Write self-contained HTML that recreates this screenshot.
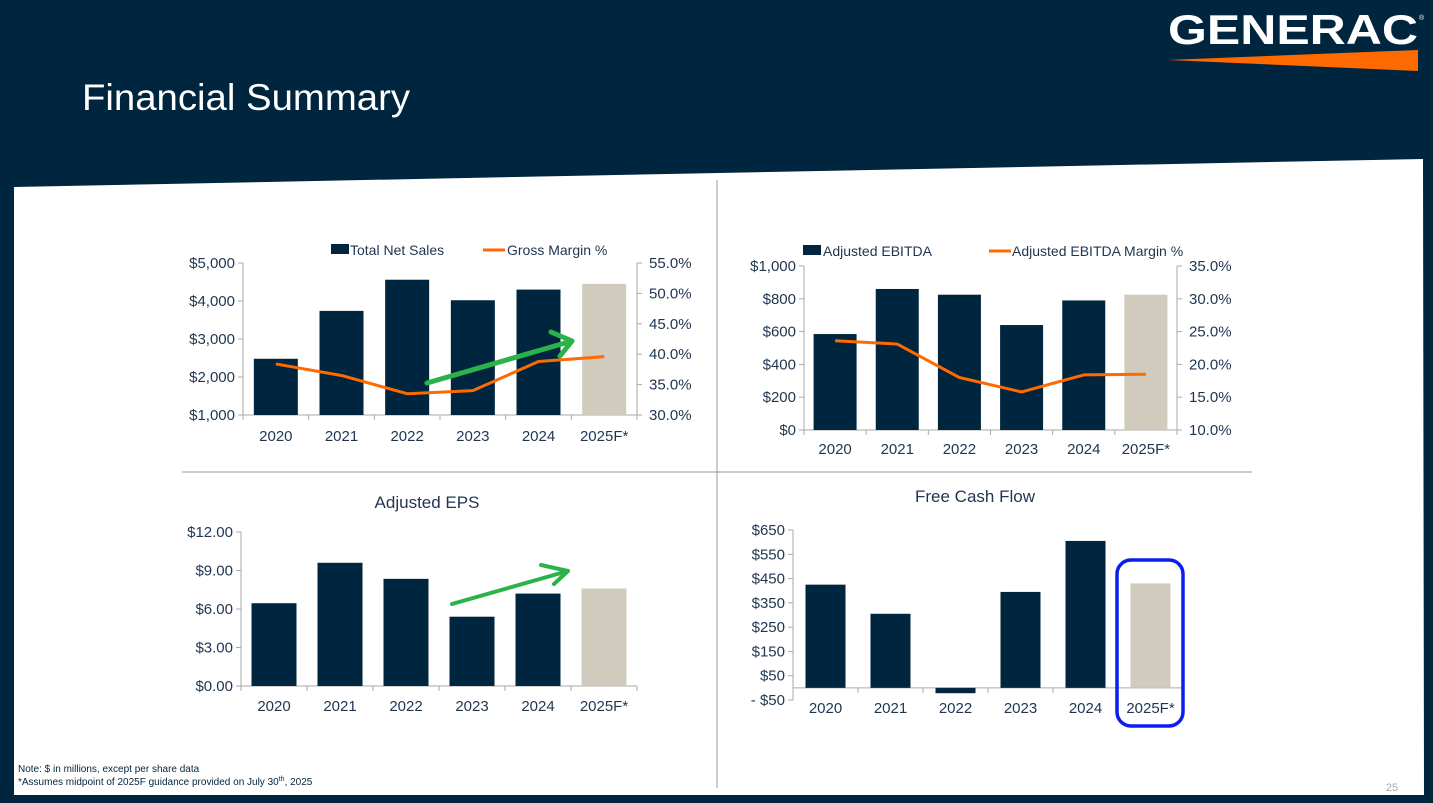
<!DOCTYPE html>
<html><head><meta charset="utf-8">
<style>
html,body{margin:0;padding:0;width:1433px;height:803px;overflow:hidden;background:#00253e;font-family:"Liberation Sans",sans-serif}
svg{position:absolute;left:0;top:0}
text{font-family:"Liberation Sans",sans-serif}
</style></head>
<body>
<svg id="s" width="1433" height="803">
<polygon points="14,187 1423,159 1424,795 14,795" fill="#ffffff"/>
<text x="82" y="110" font-size="37" fill="#ffffff" textLength="328" lengthAdjust="spacingAndGlyphs">Financial Summary</text>
<text x="1168" y="44" font-size="42" font-weight="bold" fill="#ffffff" textLength="250" lengthAdjust="spacingAndGlyphs">GENERAC</text>
<text x="1419" y="20" font-size="7" fill="#fff">®</text>
<polygon points="1168,60 1418,50 1418,71" fill="#ff6a00"/>
<line x1="717" y1="180" x2="717" y2="788" stroke="#999" stroke-width="1"/>
<line x1="182" y1="472" x2="1252" y2="472" stroke="#999" stroke-width="1"/>
<text x="18" y="772" font-size="10" fill="#00253e">Note: $ in millions, except per share data</text>
<text x="18" y="785" font-size="10" fill="#00253e">*Assumes midpoint of 2025F guidance provided on July 30<tspan font-size="7" dy="-4">th</tspan><tspan dy="4">, 2025</tspan></text>
<text x="1392" y="791" font-size="11" fill="#aaa" text-anchor="middle">25</text>
<g id="charts"></g>
</svg>
<script>
const categories = ["2020","2021","2022","2023","2024","2025F*"];
const netSales = [2480, 3740, 4560, 4020, 4300, 4450];
const grossMargin = [38.4, 36.5, 33.5, 34.0, 38.8, 39.6];
const ebitda = [585, 860, 825, 640, 790, 825];
const ebitdaMargin = [23.6, 23.1, 18.0, 15.8, 18.4, 18.5];
const eps = [6.45, 9.6, 8.35, 5.4, 7.2, 7.6];
const fcf = [425, 305, -22, 395, 605, 430];
const salesTicks = [1000,2000,3000,4000,5000];
const gmTicks = [30,35,40,45,50,55];
const ebitdaTicks = [0,200,400,600,800,1000];
const emTicks = [10,15,20,25,30,35];
const epsTicks = [0,3,6,9,12];
const fcfTicks = [-50,50,150,250,350,450,550,650];

const NS="http://www.w3.org/2000/svg";
const root=document.getElementById('charts');
const NAVY="#00253e", TAN="#d1cbbd", ORANGE="#ff6a00", TXT="#1f3550";
function mk(tag,attrs,parent){const e=document.createElementNS(NS,tag);for(const k in attrs)e.setAttribute(k,attrs[k]);(parent||root).appendChild(e);return e;}
function fmtMoney(v,dec){const s=Math.abs(v).toLocaleString('en-US',{minimumFractionDigits:dec,maximumFractionDigits:dec});return (v<0?"- $":"$")+s;}

function chart(o){
  const g=mk('g',{});
  
  
  const y=v=>o.y0+(v-o.min)/(o.max-o.min)*(o.y1-o.y0);
  const bw=(o.x1-o.x0)/categories.length;
  const cx=i=>o.x0+bw*(i+0.5);
  const zero=y(Math.max(o.min,0));
  mk('line',{x1:o.x0,y1:o.y0,x2:o.x0,y2:o.y1,stroke:"#aaa"},g);
  o.ticks.forEach(t=>{
    mk('line',{x1:o.x0-5,y1:y(t),x2:o.x0,y2:y(t),stroke:"#aaa"},g);
    const tx=mk('text',{x:o.x0-8,y:y(t)+5,'font-size':15,fill:TXT,'text-anchor':'end'},g);
    tx.textContent=fmtMoney(t,o.dec);
    
    
  });
  mk('line',{x1:o.x0,y1:zero,x2:o.x1,y2:zero,stroke:"#aaa"},g);
  for(let i=0;i<=categories.length;i++) mk('line',{x1:o.x0+bw*i,y1:zero,x2:o.x0+bw*i,y2:zero+5,stroke:"#aaa"},g);
  o.vals.forEach((v,i)=>{
    const top=Math.min(y(v),zero),h=Math.abs(y(v)-zero);
    const r=mk('rect',{x:cx(i)-o.barW/2,y:top,width:o.barW,height:h,fill:i==5?TAN:NAVY},g);
    
    
  });
  categories.forEach((c,i)=>{
    const t=mk('text',{x:cx(i),y:o.labelY,'font-size':15,fill:TXT,'text-anchor':'middle'},g);
    t.textContent=c;
    
    
  });
  if(o.line){
    const ry=v=>o.y0+(v-o.rmin)/(o.rmax-o.rmin)*(o.y1-o.y0);
    mk('line',{x1:o.x1,y1:o.y0,x2:o.x1,y2:o.y1,stroke:"#aaa"},g);
    o.rticks.forEach(t=>{
      mk('line',{x1:o.x1,y1:ry(t),x2:o.x1+5,y2:ry(t),stroke:"#aaa"},g);
      const tx=mk('text',{x:o.x1+12,y:ry(t)+5,'font-size':15,fill:TXT},g);
      tx.textContent=t.toFixed(1)+"%";
      
      
    });
    const p=mk('polyline',{points:o.line.map((v,i)=>cx(i)+","+ry(v)).join(" "),fill:"none",stroke:ORANGE,'stroke-width':3,'stroke-linejoin':'round'},g);
    
    
  }
  return g;
}
chart({name:'net-sales-chart',x0:243,x1:637,y0:415,y1:263,min:1000,max:5000,ticks:salesTicks,dec:0,vals:netSales,barW:44,labelY:441,line:grossMargin,rmin:30,rmax:55,rticks:gmTicks});
chart({name:'ebitda-chart',x0:804,x1:1177,y0:430,y1:266,min:0,max:1000,ticks:ebitdaTicks,dec:0,vals:ebitda,barW:43,labelY:454,line:ebitdaMargin,rmin:10,rmax:35,rticks:emTicks});
chart({name:'eps-chart',x0:241,x1:637,y0:686,y1:532,min:0,max:12,ticks:epsTicks,dec:2,vals:eps,barW:45,labelY:711});
chart({name:'fcf-chart',x0:793,x1:1183,y0:700,y1:530,min:-50,max:650,ticks:fcfTicks,dec:0,vals:fcf,barW:40,labelY:713});

function addText(x,y,s,size,name,anchor){const t=mk('text',{x:x,y:y,'font-size':size,fill:TXT,'text-anchor':anchor||'start'});t.textContent=s;}
let r=mk('rect',{x:331,y:244,width:18,height:10,fill:NAVY});
addText(350,255,"Total Net Sales",14,'legend-net-sales');
r=mk('line',{x1:483,y1:250,x2:505,y2:250,stroke:ORANGE,'stroke-width':3});
addText(507,255,"Gross Margin %",14,'legend-gross-margin');
r=mk('rect',{x:803,y:245,width:18,height:10,fill:NAVY});
addText(823,256,"Adjusted EBITDA",14,'legend-ebitda');
r=mk('line',{x1:989,y1:251,x2:1011,y2:251,stroke:ORANGE,'stroke-width':3});
addText(1012,256,"Adjusted EBITDA Margin %",14,'legend-ebitda-margin');
addText(427,508,"Adjusted EPS",17,'eps-title','middle');
addText(975,502,"Free Cash Flow",17,'fcf-title','middle');
r=mk('path',{d:"M427,383 L572,341 M551,332 L572,341 L560,356",stroke:"#2bb34a",'stroke-width':5,fill:"none",'stroke-linecap':'round','stroke-linejoin':'round'});
r=mk('path',{d:"M452,604 L568,571 M541,565 L568,571 L554,584",stroke:"#2bb34a",'stroke-width':4,fill:"none",'stroke-linecap':'round','stroke-linejoin':'round'});
r=mk('rect',{x:1117,y:560,width:66,height:166,rx:14,fill:"none",stroke:"#0a1ef0",'stroke-width':3.5});
</script>
</body></html>
